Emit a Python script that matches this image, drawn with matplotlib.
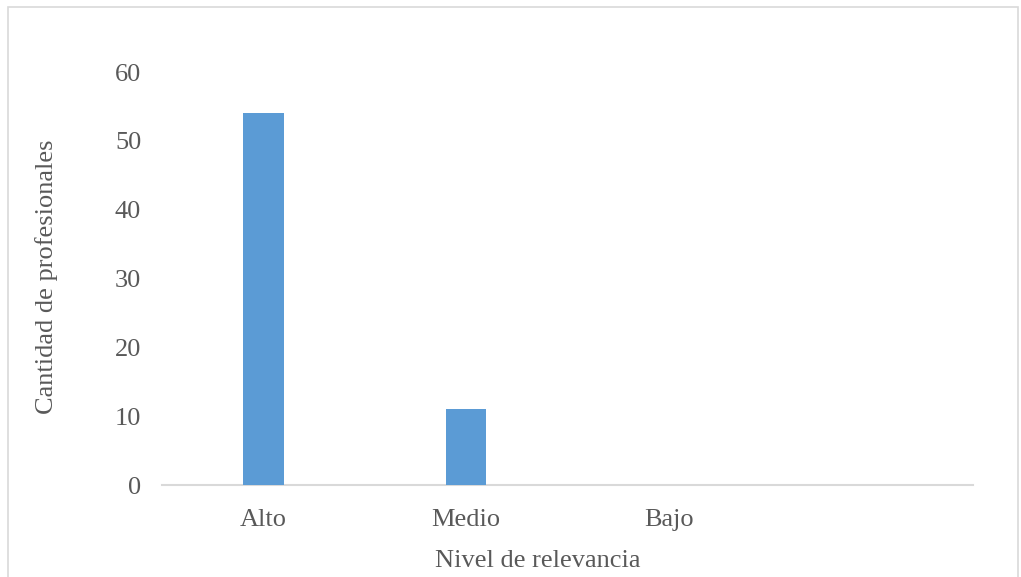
import matplotlib
matplotlib.use("Agg")
import matplotlib.pyplot as plt
from matplotlib.patches import Rectangle

categories = ["Alto", "Medio", "Bajo", ""]
counts = [54, 11, 0, 0]
y_ticks = [0, 10, 20, 30, 40, 50, 60]

plt.rcParams["font.family"] = ["Liberation Serif", "DejaVu Serif"]
text_color = "#595959"

fig = plt.figure(figsize=(10.21, 5.77), dpi=100)
ax = fig.add_axes([162 / 1021, 1 - 485 / 577, (973 - 162) / 1021, (485 - 72) / 577])

x = list(range(len(categories)))
ax.bar(x, counts, width=0.2, color="#5b9bd5", zorder=3)

ax.set_xlim(-0.5, len(categories) - 0.5)
ax.set_ylim(0, 60)
ax.set_yticks(y_ticks)
ax.set_xticks(x)
ax.set_xticklabels(categories)

for side in ("top", "right", "left"):
    ax.spines[side].set_visible(False)
ax.spines["bottom"].set_color("#d9d9d9")
ax.spines["bottom"].set_linewidth(1.5)

ax.tick_params(axis="both", length=0, labelsize=19, labelcolor=text_color)
ax.tick_params(axis="y", pad=15)
ax.tick_params(axis="x", pad=17)

fig.text(47 / 1021, 1 - 277 / 577, "Cantidad de profesionales", rotation=90,
         ha="center", va="center", fontsize=19, color=text_color)
fig.text(538 / 1021, 1 - 561 / 577, "Nivel de relevancia",
         ha="center", va="center", fontsize=19, color=text_color)

fig.patches.append(Rectangle((8 / 1021, -0.01), (1018 - 8) / 1021, 1 - 7 / 577 + 0.01,
                             transform=fig.transFigure, fill=False,
                             edgecolor="#d9d9d9", linewidth=1.2))

fig.savefig("out.png", dpi=100)
